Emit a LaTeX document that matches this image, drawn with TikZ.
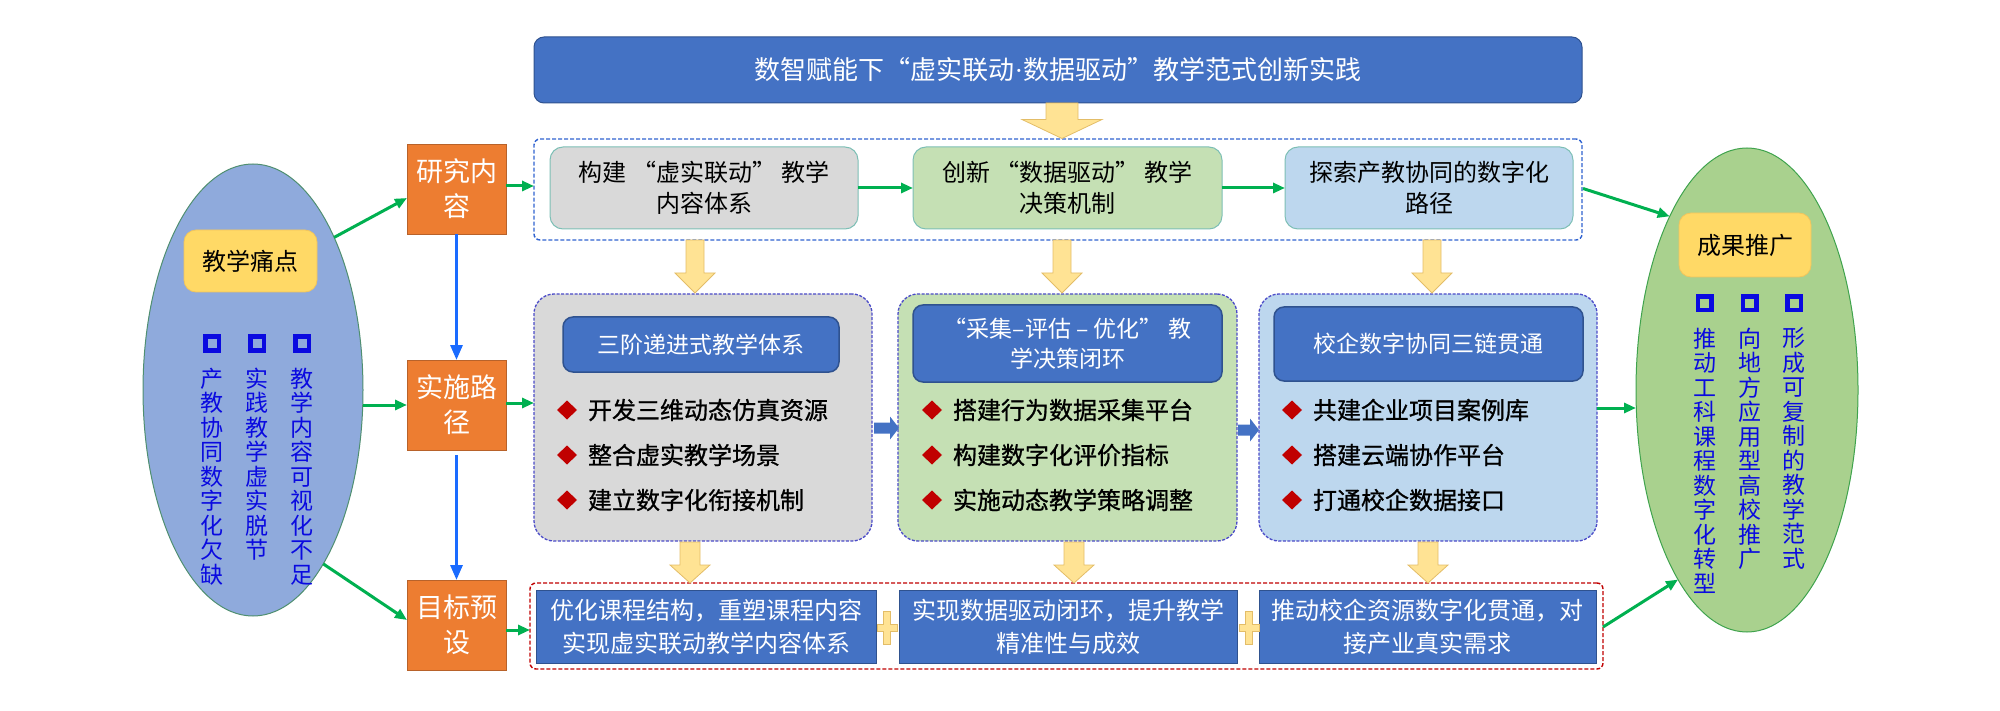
\documentclass[tikz,border=0pt]{standalone}
\usepackage{fontspec}
\setmainfont{Noto Sans CJK SC}
\newfontfamily\heavyfont[FakeBold=0.9]{Noto Sans CJK SC}
\newfontfamily\latinfont{Liberation Serif}
\usetikzlibrary{shapes.geometric,calc,arrows.meta}

\definecolor{blueC}{HTML}{4472C4}
\definecolor{blueB}{HTML}{2F528F}
\definecolor{orangeC}{HTML}{ED7D31}
\definecolor{orangeB}{HTML}{B8622A}
\definecolor{grayC}{HTML}{D9D9D9}
\definecolor{greenC}{HTML}{C5E0B4}
\definecolor{lblueC}{HTML}{BDD7EE}
\definecolor{yboxC}{HTML}{FFD966}
\definecolor{yboxB}{HTML}{F2C55C}
\definecolor{yarrC}{HTML}{FFE394}
\definecolor{yarrB}{HTML}{E3BD68}
\definecolor{gline}{HTML}{00B050}
\definecolor{bline}{HTML}{1A6BFF}
\definecolor{lellC}{HTML}{8FAADC}
\definecolor{lellB}{HTML}{4F8F70}
\definecolor{rellC}{HTML}{A9D18E}
\definecolor{rellB}{HTML}{3FA34D}
\definecolor{pdash}{HTML}{4B4BC8}
\definecolor{rdashC}{HTML}{2F62D0}
\definecolor{reddash}{HTML}{C00000}
\definecolor{tealB}{HTML}{7DBFB5}
\definecolor{diaC}{HTML}{C00000}
\definecolor{vtxtC}{HTML}{0A0AE0}

\newcommand\fs[2]{\fontsize{#1pt}{#2pt}\selectfont}

% yellow down block arrow: x, ytop, ybot, shaft width, head width, head length
\newcommand\yarr[6]{%
  \draw[yarrowsty] ({#1-#4/2},#2) -- ({#1+#4/2},#2) -- ({#1+#4/2},{#3-#6})
    -- ({#1+#5/2},{#3-#6}) -- (#1,#3) -- ({#1-#5/2},{#3-#6})
    -- ({#1-#4/2},{#3-#6}) -- cycle;}
% blue right block arrow: x1, x2, y
\newcommand\barr[3]{%
  \fill[blueC] (#1,{#3-5.5}) -- ({#2-9},{#3-5.5}) -- ({#2-9},{#3-11.5})
    -- (#2,#3) -- ({#2-9},{#3+11.5}) -- ({#2-9},{#3+5.5}) -- (#1,{#3+5.5}) -- cycle;}
% yellow plus sign: cx, cy
\newcommand\plusshp[2]{%
  \draw[plussty] ({#1-3.5},{#2-16.5}) -- ({#1+3.5},{#2-16.5}) -- ({#1+3.5},{#2-3.5})
    -- ({#1+10},{#2-3.5}) -- ({#1+10},{#2+3.5}) -- ({#1+3.5},{#2+3.5})
    -- ({#1+3.5},{#2+16.5}) -- ({#1-3.5},{#2+16.5}) -- ({#1-3.5},{#2+3.5})
    -- ({#1-10},{#2+3.5}) -- ({#1-10},{#2-3.5}) -- ({#1-3.5},{#2-3.5}) -- cycle;}

\begin{document}
\begin{tikzpicture}[x=1pt,y=-1pt,
  every node/.style={inner sep=0pt, outer sep=0pt},
  titlebox/.style={rectangle, rounded corners=10pt, fill=blueC, draw=blueB, line width=1pt,
    minimum width=1048pt, minimum height=66pt, text=white, font=\fs{26}{30}},
  orbox/.style={rectangle, fill=orangeC, draw=orangeB, line width=0.8pt,
    minimum width=99pt, minimum height=90pt, text=white, align=center, font=\fs{27}{35}},
  rdashbox/.style={rectangle, rounded corners=6pt, draw=rdashC, line width=1.4pt,
    dash pattern=on 4pt off 2pt},
  rbox/.style={rectangle, rounded corners=13pt, draw=tealB, line width=1pt,
    minimum height=82pt, align=center, font=\fs{24}{31}},
  panel/.style={rectangle, rounded corners=20pt, draw=pdash, line width=1.3pt,
    dash pattern=on 3pt off 1.5pt, minimum height=247pt},
  hdr/.style={rectangle, rounded corners=10pt, fill=blueC, draw=blueB, line width=1.5pt,
    text=white, align=center, font=\fs{23}{30}},
  botbox/.style={rectangle, fill=blueC, draw=blueB, line width=1pt,
    minimum height=73pt, text=white, align=center, font=\fs{24}{33}},
  ybox/.style={rectangle, rounded corners=12pt, fill=yboxC, draw=yboxB, line width=0.8pt,
    font=\fs{24}{28}},
  vtxt/.style={anchor=north, align=center, text=vtxtC, font=\fs{23}{24.5}},
  sqb/.style={rectangle, draw=vtxtC, line width=4.5pt, minimum size=13.5pt},
  dia/.style={diamond, fill=diaC, minimum width=20pt, minimum height=19pt},
  itemtxt/.style={anchor=west, font=\heavyfont\fs{24}{28}},
  garrow/.style={draw=gline, line width=3pt, -{Triangle[length=12pt,width=10pt]}},
  barrow/.style={draw=bline, line width=3pt, -{Triangle[length=15pt,width=12pt]}},
  yarrowsty/.style={fill=yarrC, draw=yarrB, line width=0.8pt},
  plussty/.style={fill=yarrC, draw=yarrB, line width=0.8pt}
]
\useasboundingbox (0,0) rectangle (2000,711);

% ---------- ellipses ----------
\node[ellipse, fill=lellC, draw=lellB, line width=1pt, minimum width=220pt, minimum height=452pt] (le) at (253,390) {};
\node[ellipse, fill=rellC, draw=rellB, line width=1pt, minimum width=222pt, minimum height=484pt] (re) at (1747,390) {};

\node[ybox, minimum width=133pt, minimum height=62pt] (lyb) at (250.5,261) {教学痛点};
\node[ybox, minimum width=132pt, minimum height=64pt] (ryb) at (1745,245) {成果推广};

\node[sqb] (lq1) at (212,343.5) {};
\node[sqb] (lq2) at (257,343.5) {};
\node[sqb] (lq3) at (302,343.5) {};
\node[vtxt] (lt1) at (212,368) {产\\教\\协\\同\\数\\字\\化\\欠\\缺};
\node[vtxt] (lt2) at (257,368) {实\\践\\教\\学\\虚\\实\\脱\\节};
\node[vtxt] (lt3) at (302,368) {教\\学\\内\\容\\可\\视\\化\\不\\足};

\node[sqb] (rq1) at (1704.5,303.5) {};
\node[sqb] (rq2) at (1749.5,303.5) {};
\node[sqb] (rq3) at (1794,303.5) {};
\node[vtxt] (rt1) at (1704.5,328) {推\\动\\工\\科\\课\\程\\数\\字\\化\\转\\型};
\node[vtxt] (rt2) at (1749.5,328) {向\\地\\方\\应\\用\\型\\高\\校\\推\\广};
\node[vtxt] (rt3) at (1794,328) {形\\成\\可\\复\\制\\的\\教\\学\\范\\式};

% ---------- orange boxes ----------
\node[orbox] (o1) at (456.5,189) {研究内\\容};
\node[orbox] (o2) at (456.5,405) {实施路\\径};
\node[orbox] (o3) at (456.5,625) {目标预\\设};

% ---------- title ----------
\node[titlebox] (title) at (1058,70) {数智赋能下“虚实联动{\latinfont\fs{26}{30}·}数据驱动”教学范式创新实践};

% ---------- research row ----------
\node[rdashbox, minimum width=1048pt, minimum height=101pt] (rd) at (1058,189.5) {};
\node[rbox, fill=grayC, minimum width=308pt] (ra) at (704,188) {构建 “虚实联动” 教学\\内容体系};
\node[rbox, fill=greenC, minimum width=309pt] (rb) at (1067.5,188) {创新 “数据驱动” 教学\\决策机制};
\node[rbox, fill=lblueC, minimum width=288pt] (rc) at (1429,188) {探索产教协同的数字化\\路径};

% ---------- middle panels ----------
\node[panel, fill=grayC, minimum width=338pt] (p1) at (703,417.5) {};
\node[panel, fill=greenC, minimum width=339pt] (p2) at (1067.5,417.5) {};
\node[panel, fill=lblueC, minimum width=338pt] (p3) at (1428,417.5) {};

\node[hdr, minimum width=276pt, minimum height=55pt] (h1) at (701,344.5) {三阶递进式教学体系};
\node[hdr, minimum width=309pt, minimum height=77pt] (h2) at (1067.5,343.5) {“采集–评估 – 优化” 教\\学决策闭环};
\node[hdr, minimum width=309pt, minimum height=74pt] (h3) at (1428.5,344) {校企数字协同三链贯通};

\node[dia] (d11) at (567,410) {}; \node[itemtxt] (i11) at (588,410) {开发三维动态仿真资源};
\node[dia] (d12) at (567,455) {}; \node[itemtxt] (i12) at (588,455) {整合虚实教学场景};
\node[dia] (d13) at (567,500) {}; \node[itemtxt] (i13) at (588,500) {建立数字化衔接机制};

\node[dia] (d21) at (932,410) {}; \node[itemtxt] (i21) at (953,410) {搭建行为数据采集平台};
\node[dia] (d22) at (932,455) {}; \node[itemtxt] (i22) at (953,455) {构建数字化评价指标};
\node[dia] (d23) at (932,500) {}; \node[itemtxt] (i23) at (953,500) {实施动态教学策略调整};

\node[dia] (d31) at (1292,410) {}; \node[itemtxt] (i31) at (1313,410) {共建企业项目案例库};
\node[dia] (d32) at (1292,455) {}; \node[itemtxt] (i32) at (1313,455) {搭建云端协作平台};
\node[dia] (d33) at (1292,500) {}; \node[itemtxt] (i33) at (1313,500) {打通校企数据接口};

% ---------- bottom row ----------
\node[rectangle, rounded corners=6pt, draw=reddash, line width=1.4pt, dash pattern=on 4pt off 2pt,
  minimum width=1073pt, minimum height=86pt] (bd) at (1066.5,626) {};
\node[botbox, minimum width=340pt] (b1) at (706,626.5) {优化课程结构，重塑课程内容\\实现虚实联动教学内容体系};
\node[botbox, minimum width=338pt] (b2) at (1068,626.5) {实现数据驱动闭环，提升教学\\精准性与成效};
\node[botbox, minimum width=337pt] (b3) at (1427.5,626.5) {推动校企资源数字化贯通，对\\接产业真实需求};

\plusshp{887}{628}
\plusshp{1249}{628}

% ---------- block arrows ----------
\yarr{1062}{103}{138.5}{32}{80}{19}
\yarr{695}{240}{293}{18}{40}{20}
\yarr{1062}{240}{293}{18}{40}{20}
\yarr{1432}{240}{293}{18}{40}{20}
\yarr{690}{542}{583}{20}{40}{18}
\yarr{1074}{542}{583}{20}{40}{18}
\yarr{1428}{542}{583}{20}{40}{18}

\barr{874}{899}{428}
\barr{1238}{1259}{430}

% ---------- connectors ----------
\draw[garrow] (le.62) -- ($(o1.west)+(0,9)$);
\draw[garrow] (o2.west -| le.east) -- (o2.west);
\draw[garrow] (le.-68) -- ($(o3.west)+(0,-5)$);

\draw[garrow] ($(o1.east)+(0,-3)$) -- ($(rd.west)+(0,-3.5)$);
\draw[garrow] ($(o2.east)+(0,-2)$) -- ($(p1.west)+(0,-14.5)$);
\draw[garrow] ($(o3.east)+(0,5)$) -- ($(bd.west)+(0,4)$);

\draw[garrow] (ra.east) -- (rb.west);
\draw[garrow] (rb.east) -- (rc.west);

\draw[barrow] (o1.south) -- (o2.north);
\draw[barrow] ($(o2.south)+(0,5)$) -- (o3.north);

\draw[garrow] ($(rd.east)+(1,-1)$) -- (re.114.5);
\draw[garrow] ($(p3.east)+(0,-9.5)$) coordinate (s3) -- (s3 -| re.west);
\draw[garrow] ($(bd.east)+(0,1)$) -- (re.250.5);
\end{tikzpicture}
\end{document}
